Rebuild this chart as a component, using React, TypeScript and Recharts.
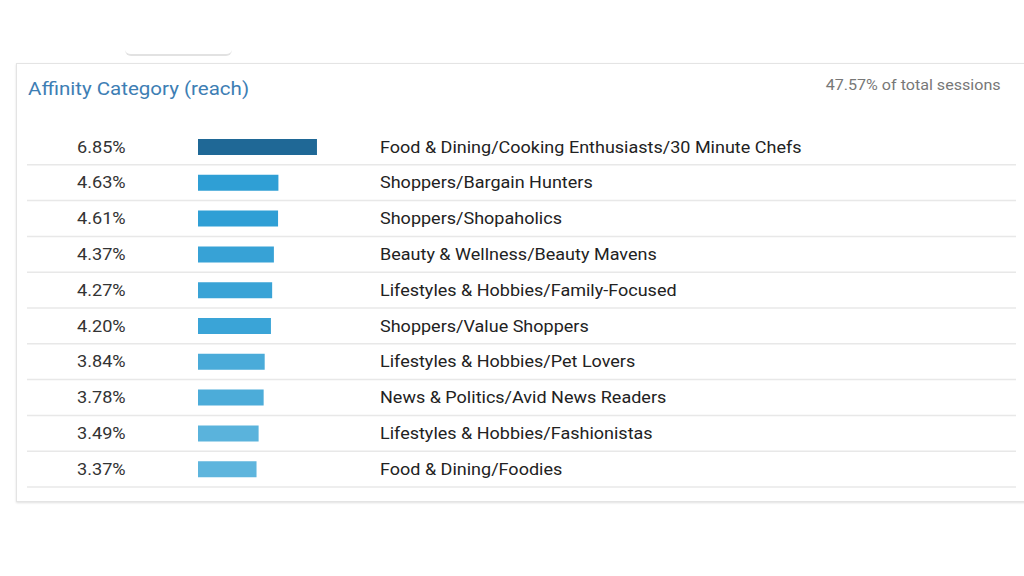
import { BarChart, Bar, XAxis, YAxis, Cell } from "recharts";

const categories = [
  "Food & Dining/Cooking Enthusiasts/30 Minute Chefs",
  "Shoppers/Bargain Hunters",
  "Shoppers/Shopaholics",
  "Beauty & Wellness/Beauty Mavens",
  "Lifestyles & Hobbies/Family-Focused",
  "Shoppers/Value Shoppers",
  "Lifestyles & Hobbies/Pet Lovers",
  "News & Politics/Avid News Readers",
  "Lifestyles & Hobbies/Fashionistas",
  "Food & Dining/Foodies",
];

const reach = [6.85, 4.63, 4.61, 4.37, 4.27, 4.2, 3.84, 3.78, 3.49, 3.37];

const reachLabels = ["6.85%", "4.63%", "4.61%", "4.37%", "4.27%", "4.20%", "3.84%", "3.78%", "3.49%", "3.37%"];

const barColors = [
  "#1f6896",
  "#2f9fd5",
  "#2f9fd5",
  "#37a2d6",
  "#39a3d6",
  "#3aa4d7",
  "#4aabd9",
  "#4cacd9",
  "#5ab3dc",
  "#5eb5dd",
];

const data = categories.map((name, i) => ({ name, value: reach[i] }));

const FONT = "Roboto, 'Noto Sans', Arial, sans-serif";

// the screenshot is a little stretched sideways, so text gets a scaleX
function RowTick(props: any) {
  const { y, payload } = props;
  const idx = props.index ?? categories.indexOf(payload.value);
  const half = payload?.offset ?? 17.9;
  return (
    <g>
      <text
        transform={`translate(77 ${y}) scale(1.1 1)`}
        dominantBaseline="central"
        fontFamily={FONT}
        fontSize={16.5}
        fill="#333"
      >
        {reachLabels[idx]}
      </text>
      <text
        transform={`translate(380 ${y}) scale(1.092 1)`}
        dominantBaseline="central"
        fontFamily={FONT}
        fontSize={16.5}
        fill="#222"
      >
        {payload.value}
      </text>
      <line x1={27} x2={1016} y1={y + half} y2={y + half} stroke="#e8e8e8" strokeWidth={1.5} />
    </g>
  );
}

export default function App() {
  return (
    <div
      style={{
        position: "fixed",
        left: 0,
        top: 0,
        width: 1024,
        height: 576,
        background: "#fff",
        overflow: "hidden",
        fontFamily: FONT,
      }}
    >
      {/* tab edge above the panel */}
      <div
        style={{
          position: "absolute",
          left: 125,
          top: 46,
          width: 107,
          height: 8,
          borderBottom: "2px solid #e2e2e2",
          borderRadius: "0 0 6px 6px",
        }}
      />
      {/* panel */}
      <div
        style={{
          position: "absolute",
          left: 16,
          top: 63,
          width: 1030,
          height: 437,
          border: "1px solid #e4e4e4",
          boxShadow: "0 1px 2px rgba(0,0,0,0.12)",
          background: "#fff",
        }}
      />
      <div
        style={{
          position: "absolute",
          left: 28,
          top: 77,
          fontSize: 19,
          color: "#3d7eb4",
          whiteSpace: "nowrap",
          transform: "scaleX(1.08)",
          transformOrigin: "left center",
        }}
      >
        Affinity Category (reach)
      </div>
      <div
        style={{
          position: "absolute",
          right: 23,
          top: 77,
          fontSize: 14.5,
          color: "#777",
          whiteSpace: "nowrap",
          transform: "scaleX(1.11)",
          transformOrigin: "right center",
        }}
      >
        47.57% of total sessions
      </div>
      <div style={{ position: "absolute", left: 0, top: 0 }}>
        <BarChart
          width={1024}
          height={576}
          layout="vertical"
          data={data}
          margin={{ top: 129, right: 8, bottom: 89, left: 28 }}
          barCategoryGap={0}
        >
          <XAxis type="number" domain={[0, 47.1]} hide />
          <YAxis
            type="category"
            dataKey="name"
            width={170}
            axisLine={false}
            tickLine={false}
            interval={0}
            tick={<RowTick />}
          />
          <Bar dataKey="value" barSize={16} isAnimationActive={false}>
            {data.map((d, i) => (
              <Cell key={d.name} fill={barColors[i]} />
            ))}
          </Bar>
        </BarChart>
      </div>
    </div>
  );
}
